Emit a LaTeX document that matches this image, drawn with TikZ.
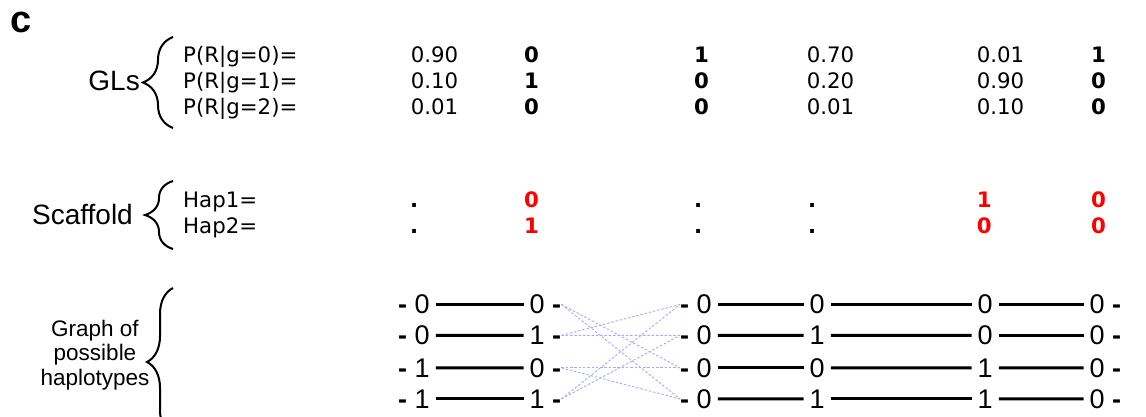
\documentclass[tikz,border=0pt]{standalone}
\usepackage{fontspec}
\usetikzlibrary{decorations.pathreplacing}
\newfontfamily\dvfont{DejaVu Sans}
\newfontfamily\lsfont{Liberation Sans}
\definecolor{dotblue}{RGB}{170,170,252}
\definecolor{hapred}{RGB}{255,0,0}
\begin{document}
\begin{tikzpicture}[x=1pt,y=-1pt,
  tbl/.style={font=\dvfont\fontsize{21.3}{25}\selectfont, inner sep=0pt, anchor=base west},
  bld/.style={font=\dvfont\bfseries\fontsize{21.3}{25}\selectfont, inner sep=0pt, anchor=base west},
  redbld/.style={bld, text=hapred},
  lbl/.style={font=\lsfont\fontsize{28}{32}\selectfont, inner sep=0pt},
  gd/.style={font=\lsfont\fontsize{27}{30}\selectfont, inner sep=0pt, anchor=base west},
  hline/.style={line width=3pt, shorten <=6pt, shorten >=6pt},
  dline/.style={draw=dotblue, line width=0.9pt, dash pattern=on 2.5pt off 1.8pt},
  bracestyle/.style={decorate, line width=2pt},
]
\useasboundingbox (0,0) rectangle (1146,417);

% panel letter
\node[font=\lsfont\bfseries\fontsize{38}{42}\selectfont, inner sep=0pt, anchor=base west] (panel) at (10,33) {c};

% GLs block
\node[lbl, anchor=base east] (gls) at (140,91) {GLs};
\draw[bracestyle, decoration={brace, amplitude=30pt}] (173,128) -- (173,37);
\node[tbl] (p0) at (183,63) {P(R|g=0)=};
\node[tbl] (p1) at (183,89) {P(R|g=1)=};
\node[tbl] (p2) at (183,115) {P(R|g=2)=};

\node[tbl] (a1) at (410.6,63) {0.90};
\node[tbl] (a2) at (410.6,89) {0.10};
\node[tbl] (a3) at (410.6,115) {0.01};
\node[bld] (b1) at (524,63) {0};
\node[bld] (b2) at (524,89) {1};
\node[bld] (b3) at (524,115) {0};
\node[bld] (c1) at (694,63) {1};
\node[bld] (c2) at (694,89) {0};
\node[bld] (c3) at (694,115) {0};
\node[tbl] (d1) at (806.6,63) {0.70};
\node[tbl] (d2) at (806.6,89) {0.20};
\node[tbl] (d3) at (806.6,115) {0.01};
\node[tbl] (e1) at (976.6,63) {0.01};
\node[tbl] (e2) at (976.6,89) {0.90};
\node[tbl] (e3) at (976.6,115) {0.10};
\node[bld] (f1) at (1091,63) {1};
\node[bld] (f2) at (1091,89) {0};
\node[bld] (f3) at (1091,115) {0};

% Scaffold block
\node[lbl, anchor=base east] (scaf) at (133,224) {Scaffold};
\draw[bracestyle, decoration={brace, amplitude=28pt}] (173,249) -- (173,181);
\node[tbl] (h1) at (183,207) {Hap1=};
\node[tbl] (h2) at (183,233) {Hap2=};
\node[bld] (sa1) at (410,207) {.};
\node[bld] (sa2) at (410,233) {.};
\node[redbld] (sb1) at (524,207) {0};
\node[redbld] (sb2) at (524,233) {1};
\node[bld] (sc1) at (694,207) {.};
\node[bld] (sc2) at (694,233) {.};
\node[bld] (sd1) at (808,207) {.};
\node[bld] (sd2) at (808,233) {.};
\node[redbld] (se1) at (976.6,207) {1};
\node[redbld] (se2) at (976.6,233) {0};
\node[redbld] (sf1) at (1091,207) {0};
\node[redbld] (sf2) at (1091,233) {0};

% Graph block
\node[font=\lsfont\fontsize{22.5}{24.5}\selectfont, inner sep=0pt, align=center] (graph) at (95,355) {Graph of\\possible\\haplotypes};
\draw[bracestyle, decoration={brace, amplitude=26pt}] (173,436) -- (173,288);

\foreach \r/\y/\a/\b/\c/\d/\e/\f in {1/313.7/0/0/0/0/0/0, 2/344.7/0/1/0/1/0/0, 3/377.2/1/0/0/0/1/0, 4/408.2/1/1/0/1/1/0} {
  \node[gd] (gA\r) at (398,\y) {{\bfseries -} \a};
  \node[gd] (gB\r) at (529.5,\y) {\b\ {\bfseries -}};
  \node[gd] (gC\r) at (680,\y) {{\bfseries -} \c};
  \node[gd] (gD\r) at (809.5,\y) {\d};
  \node[gd] (gE\r) at (977.5,\y) {\e};
  \node[gd] (gF\r) at (1089.5,\y) {\f\ {\bfseries -}};
  \draw[hline] (gA\r.east) -- (gB\r.west);
  \draw[hline] (gC\r.east) -- (gD\r.west);
  \draw[hline] (gD\r.east) -- (gE\r.west);
  \draw[hline] (gE\r.east) -- (gF\r.west);
}

\draw[dline] (gB1.east) -- (gC3.west);
\draw[dline] (gB1.east) -- (gC4.west);
\draw[dline] (gB2.east) -- (gC1.west);
\draw[dline] (gB2.east) -- (gC2.west);
\draw[dline] (gB3.east) -- (gC3.west);
\draw[dline] (gB3.east) -- (gC4.west);
\draw[dline] (gB4.east) -- (gC1.west);
\draw[dline] (gB4.east) -- (gC2.west);
\end{tikzpicture}
\end{document}
